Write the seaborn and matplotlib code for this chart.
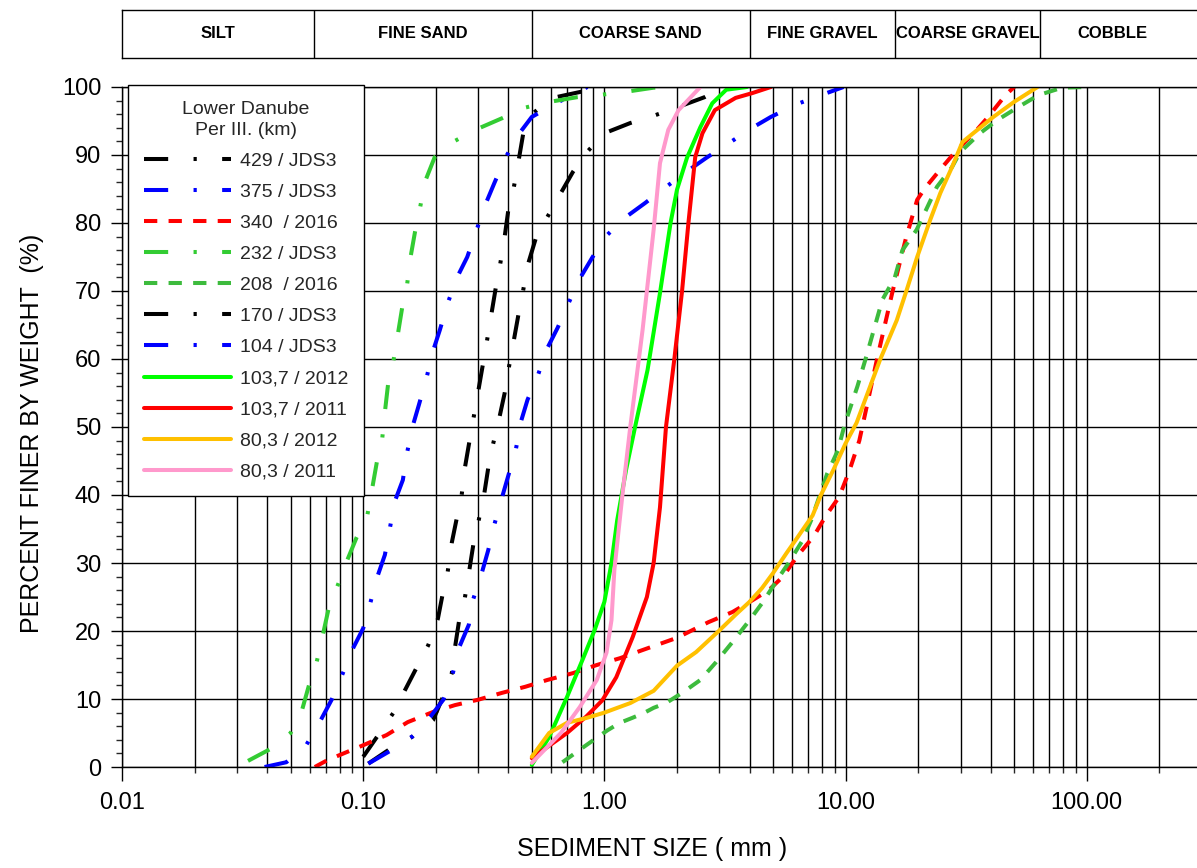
import matplotlib
matplotlib.use("Agg")
import matplotlib.pyplot as plt
from matplotlib.lines import Line2D
from matplotlib.ticker import FixedLocator, FixedFormatter, LogLocator, MultipleLocator, NullFormatter
import numpy as np
import pandas as pd
import seaborn as sns

# grain size classes shown in the strip above the chart (mm)
class_names = ["SILT", "FINE SAND", "COARSE SAND", "FINE GRAVEL", "COARSE GRAVEL", "COBBLE"]
class_edges = [0.01, 0.0625, 0.5, 4, 16, 64, 256]

xtick_values = [0.01, 0.1, 1, 10, 100]
xtick_labels = ["0.01", "0.10", "1.00", "10.00", "100.00"]
ytick_values = [0, 10, 20, 30, 40, 50, 60, 70, 80, 90, 100]

series_names = ["429 / JDS3", "375 / JDS3", "340  / 2016", "232 / JDS3", "208  / 2016",
                "170 / JDS3", "104 / JDS3", "103,7 / 2012", "103,7 / 2011", "80,3 / 2012", "80,3 / 2011"]

# grading curves: sieve size (mm) and percent finer
s429_size = [0.1, 0.117, 0.133, 0.149, 0.167, 0.186, 0.204, 0.214, 0.224, 0.233, 0.245, 0.256, 0.264,
             0.276, 0.3, 0.325, 0.34, 0.355, 0.37, 0.386, 0.40, 0.42, 0.44, 0.46, 0.5, 0.61, 0.8, 1.0]
s429_pct = [1.5, 5, 7.9, 11.3, 14.7, 17.9, 21.8, 25.6, 28.7, 33, 36.8, 40, 44,
            48, 55.3, 62.4, 66.6, 70.6, 74, 78, 82, 85, 89, 93, 96, 98.4, 99.3, 100]

s375_size = [0.039, 0.048, 0.058, 0.066, 0.074, 0.0815, 0.09, 0.1, 0.107, 0.114, 0.123, 0.129, 0.135,
             0.146, 0.152, 0.16, 0.17, 0.183, 0.194, 0.208, 0.224, 0.245, 0.27, 0.294, 0.32, 0.35,
             0.386, 0.44, 0.5, 0.63, 0.85]
s375_pct = [0, 0.7, 3.2, 6.6, 9.9, 13.4, 17.2, 20.4, 24.1, 27.8, 31.2, 35.1, 39,
            42.2, 46.2, 50, 53.2, 57.2, 61, 64.3, 68.2, 72, 75, 78.8, 82.6, 85.9,
            89.4, 93, 95.6, 97.6, 100]

s340_size = [0.063, 0.071, 0.1, 0.125, 0.153, 0.195, 0.24, 0.3, 0.376, 0.47, 0.58, 0.74, 0.93, 1.16,
             1.44, 2.0, 2.7, 3.4, 4.1, 4.8, 5.5, 6.3, 7.4, 8.3, 9.4, 10.4, 11.4, 13.5, 15.6, 17.8,
             19.8, 21.3, 24.6, 28.4, 35, 39, 46, 50]
s340_pct = [0, 1, 3.2, 4.7, 6.6, 8.1, 9.1, 9.9, 10.9, 11.8, 12.8, 13.8, 15, 16,
            17.2, 19, 21.3, 22.8, 24.5, 26, 28, 31, 34, 37, 39.7, 43.7, 48, 60, 69.7, 77.8,
            83.4, 85.1, 87.8, 90.4, 93.7, 95.6, 98.8, 100]

s232_size = [0.0333, 0.042, 0.05, 0.0558, 0.06, 0.064, 0.068, 0.072, 0.078, 0.0856, 0.094, 0.104,
             0.109, 0.114, 0.12, 0.123, 0.127, 0.133, 0.139, 0.145, 0.152, 0.157, 0.164, 0.172, 0.18,
             0.198, 0.235, 0.296, 0.376, 0.46, 0.59, 0.77, 0.94, 1.23, 1.6, 2.0]
s232_pct = [0.9, 2.8, 5, 8.4, 12.4, 15.3, 19.4, 23.4, 26.5, 30.3, 33.8, 37,
            41, 44.9, 48.4, 52.2, 56.5, 59.4, 63.5, 67.5, 70.9, 74.9, 78.7, 82.2, 86,
            89.7, 91.9, 93.8, 95.4, 96.9, 97.8, 98.5, 98.8, 99.3, 99.9, 100]

s208_size = [0.67, 0.74, 0.84, 0.93, 1.03, 1.16, 1.3, 1.45, 1.6, 1.8, 2.1, 2.5, 2.9, 3.4, 4.0, 4.55,
             5.2, 5.8, 6.6, 7.2, 8.4, 9.3, 9.9, 11.2, 12.1, 14.2, 16, 17.2, 19.7, 23.9, 27.6, 29.8,
             36.1, 42.4, 51.7, 63, 79, 100]
s208_pct = [0.7, 1.8, 3.2, 4.3, 5.4, 6.5, 7.2, 7.9, 8.7, 9.4, 10.9, 12.8, 15.4, 18.4, 21.6, 24.3,
            27.5, 30, 33.2, 36.3, 43.2, 46.6, 50.3, 56, 60, 68.7, 72, 76, 79, 85.3, 88.2, 90.4,
            93.2, 95.1, 97, 98.8, 99.9, 100]

s170_size = [0.105, 0.131, 0.159, 0.195, 0.214, 0.233, 0.24, 0.25, 0.264, 0.275, 0.287, 0.3, 0.317,
             0.33, 0.345, 0.365, 0.386, 0.4, 0.42, 0.44, 0.46, 0.48, 0.52, 0.57, 0.65, 0.74, 0.84,
             1.0, 1.28, 1.58, 2.0, 2.6, 3.1]
s170_pct = [0.5, 2.8, 4.4, 6.9, 10.3, 13.8, 17.5, 21.6, 24.9, 28.8, 33, 36, 40,
            44, 47.4, 51, 55, 58.4, 62.5, 66.5, 70, 73.7, 77.8, 80.4, 84, 87.5, 90.3,
            93.2, 94.7, 95.7, 97, 98.5, 100]

s104_size = [0.105, 0.127, 0.16, 0.19, 0.215, 0.235, 0.25, 0.274, 0.286, 0.31, 0.33, 0.35, 0.376, 0.4,
             0.43, 0.45, 0.48, 0.53, 0.58, 0.64, 0.71, 0.79, 0.89, 1.01, 1.23, 1.47, 1.8, 2.2, 2.65,
             3.3, 4.1, 4.9, 6.3, 7.9, 9.8]
s104_pct = [0.5, 2.2, 4.5, 7.4, 9.9, 13.7, 17.6, 20.9, 24.7, 28.5, 31.9, 35.7, 39.6, 42.9,
            46.8, 50.7, 54, 57.6, 61.6, 64.6, 68.2, 71.8, 74.9, 78, 80.9, 82.9, 85.3, 87.6, 89.6,
            91.8, 94, 95.6, 97.5, 98.8, 100]

s1037_2012_size = [0.5, 0.59, 0.7, 0.81, 0.91, 1.0, 1.07, 1.13, 1.23, 1.34, 1.51, 1.7, 1.88, 2.0, 2.2,
                   2.5, 2.8, 3.2, 3.9]
s1037_2012_pct = [0.3, 4.4, 10.3, 15.7, 20.1, 24.3, 30, 36.3, 43.7, 50, 58.4, 69.7, 80, 84.9, 89.6,
                  94.1, 97.6, 99.6, 100]

s1037_2011_size = [0.5, 0.7, 0.84, 0.98, 1.12, 1.31, 1.5, 1.6, 1.7, 1.8, 1.95, 2.1, 2.23, 2.38, 2.55,
                   2.87, 3.5, 4.1, 4.9]
s1037_2011_pct = [1.3, 5, 7.4, 9.8, 13.2, 19.1, 25, 30, 38.2, 50, 60, 70.1, 80, 89.7, 93.2,
                  96.6, 98.4, 99.1, 100]

s803_2012_size = [0.5, 0.59, 0.7, 0.84, 1.0, 1.28, 1.6, 2.0, 2.4, 3.0, 3.5, 4.0, 4.5, 5.0, 5.7, 6.3,
                  7.3, 7.9, 8.9, 10, 11.1, 13.9, 16.3, 17.9, 19.8, 22.4, 24.7, 27.6, 30.5, 35.2, 41,
                  49.9, 62.5]
s803_2012_pct = [1.5, 5, 6.5, 7.2, 8, 9.4, 11.2, 14.9, 16.9, 20.1, 22.4, 24.3, 26.3, 28.5, 31.5, 33.7,
                 37, 40, 43.7, 47.6, 50.6, 59.9, 65.7, 70.1, 75, 80.4, 84.4, 88.2, 91.9, 93.7, 95.6,
                 97.8, 100]

s803_2011_size = [0.5, 0.66, 0.79, 0.93, 1.02, 1.07, 1.1, 1.19, 1.28, 1.44, 1.6, 1.7, 1.84, 2.03, 2.5]
s803_2011_pct = [0.6, 5, 8.8, 12.8, 16.8, 21.6, 29, 40.3, 50, 64.3, 79, 88.8, 93.7, 96.6, 100]

curves = [
    (s429_size, s429_pct), (s375_size, s375_pct), (s340_size, s340_pct), (s232_size, s232_pct),
    (s208_size, s208_pct), (s170_size, s170_pct), (s104_size, s104_pct),
    (s1037_2012_size, s1037_2012_pct), (s1037_2011_size, s1037_2011_pct),
    (s803_2012_size, s803_2012_pct), (s803_2011_size, s803_2011_pct),
]

frames = []
for name, (xs, ys) in zip(series_names, curves):
    frames.append(pd.DataFrame({"size": xs, "pct": ys, "series": name}))
df = pd.concat(frames, ignore_index=True)

colors = ["#000000", "#0000FF", "#FF0000", "#33CC33", "#3DBB3D", "#000000", "#0000FF",
          "#00FF00", "#FF0000", "#FFC000", "#FF99CC"]
dashdot = (6, 6.3, 0.8, 6.3)
dashed = (3.3, 2.8)
styles = [dashdot, dashdot, dashed, dashdot, dashed, dashdot, dashdot, "", "", "", ""]
palette = dict(zip(series_names, colors))
dashes = dict(zip(series_names, styles))
LW = 2.9

sns.set_style("ticks")
plt.rcParams["font.family"] = ["Liberation Sans", "DejaVu Sans"]

W, H = 1197, 868
fig = plt.figure(figsize=(W / 100, H / 100), dpi=100)
x_left, x_right = 0.01, 10 ** (-2 + (W - 122) / 241.2)

ax = fig.add_axes([122 / W, 1 - 767 / H, (W - 122) / W, 680 / H])
sns.lineplot(data=df, x="size", y="pct", hue="series", style="series",
             hue_order=series_names, style_order=series_names,
             palette=palette, dashes=dashes, linewidth=LW,
             estimator=None, sort=False, legend=False, ax=ax)

ax.set_xscale("log")
ax.set_xlim(x_left, x_right)
ax.set_ylim(0, 100)
ax.xaxis.set_major_locator(FixedLocator(xtick_values))
ax.xaxis.set_major_formatter(FixedFormatter(xtick_labels))
ax.xaxis.set_minor_locator(LogLocator(base=10, subs=np.arange(2, 10)))
ax.xaxis.set_minor_formatter(NullFormatter())
ax.yaxis.set_major_locator(FixedLocator(ytick_values))
ax.yaxis.set_minor_locator(MultipleLocator(2))

ax.grid(which="both", axis="x", color="black", linewidth=1.0)
ax.grid(which="major", axis="y", color="black", linewidth=1.0)

ax.tick_params(axis="x", which="major", direction="out", length=10, width=1, pad=8,
               labelsize=17, colors="black")
ax.tick_params(axis="x", which="minor", direction="out", length=4.5, width=1)
ax.tick_params(axis="y", which="major", direction="out", length=8, width=1, pad=7,
               labelsize=17, colors="black")
ax.tick_params(axis="y", which="minor", direction="out", length=4, width=1)
for side in ["left", "bottom", "top"]:
    ax.spines[side].set_color("black")
    ax.spines[side].set_linewidth(1.0)
ax.spines["right"].set_visible(False)

ax.set_xlabel("SEDIMENT SIZE ( mm )", fontsize=18, color="black")
ax.set_ylabel("PERCENT FINER BY WEIGHT  (%)", fontsize=18, color="black")
ax.xaxis.set_label_coords(0.493, -0.103)
ax.yaxis.set_label_coords(-0.073, 0.49)

handles = []
for c, st in zip(colors, styles):
    if st:
        handles.append(Line2D([], [], color=c, linewidth=LW, dashes=st))
    else:
        handles.append(Line2D([], [], color=c, linewidth=LW, linestyle="-"))
leg_fs = 14
leg = ax.legend(handles, series_names, title="Lower Danube\nPer III. (km)",
                loc="upper left", bbox_to_anchor=(128 / W, 1 - 85 / H), bbox_transform=fig.transFigure,
                frameon=True, fancybox=False, framealpha=1, edgecolor="black",
                fontsize=leg_fs, title_fontsize=leg_fs,
                handlelength=87 / (leg_fs * 100 / 72), handletextpad=0.5,
                labelspacing=0.69, borderpad=0.8, borderaxespad=0)
leg.get_frame().set_linewidth(1.0)
leg.get_title().set_multialignment("center")
leg.get_title().set_linespacing(1.35)

# header strip with the grain size classes
hax = fig.add_axes([122 / W, 1 - 58 / H, (W - 122) / W, 48 / H])
hax.set_xscale("log")
hax.set_xlim(x_left, x_right)
hax.set_ylim(0, 1)
hax.set_xticks([])
hax.set_yticks([])
hax.minorticks_off()
hax.tick_params(which="both", length=0, labelbottom=False, labelleft=False)
for side in ["left", "bottom", "top"]:
    hax.spines[side].set_color("black")
    hax.spines[side].set_linewidth(1.0)
hax.spines["right"].set_visible(False)
for edge in class_edges[1:-1]:
    hax.axvline(edge, color="black", linewidth=1.0)
for name, lo, hi in zip(class_names, class_edges[:-1], class_edges[1:]):
    hax.text(np.sqrt(lo * hi), 0.5, name, ha="center", va="center",
             fontsize=12, fontweight="bold", color="black")

fig.savefig("out.png", dpi=100)
